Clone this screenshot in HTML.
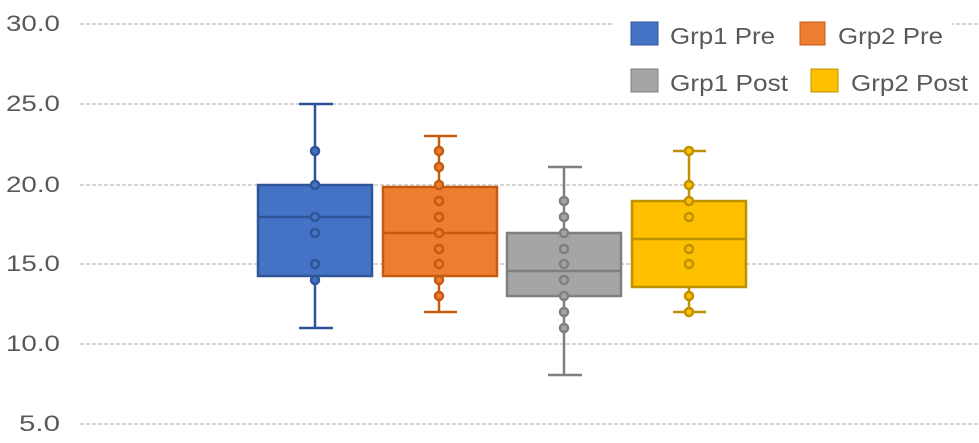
<!DOCTYPE html><html><head><style>body{margin:0;background:#fff}svg{display:block}text{font-family:"Liberation Sans",sans-serif}</style></head><body>
<svg width="979" height="443" xmlns="http://www.w3.org/2000/svg">
<g stroke="#c8c8c8" stroke-width="1.5" stroke-dasharray="4,2">
<line x1="80" y1="24" x2="979" y2="24"/><line x1="80" y1="104" x2="979" y2="104"/><line x1="80" y1="185" x2="979" y2="185"/><line x1="80" y1="264" x2="979" y2="264"/><line x1="80" y1="344" x2="979" y2="344"/><line x1="80" y1="424" x2="979" y2="424"/>
</g>
<g font-size="22" fill="#595959">
<text x="6" y="31" textLength="54" lengthAdjust="spacingAndGlyphs">30.0</text><text x="6" y="111" textLength="54" lengthAdjust="spacingAndGlyphs">25.0</text><text x="6" y="192" textLength="54" lengthAdjust="spacingAndGlyphs">20.0</text><text x="6" y="271" textLength="54" lengthAdjust="spacingAndGlyphs">15.0</text><text x="6" y="351" textLength="54" lengthAdjust="spacingAndGlyphs">10.0</text><text x="19" y="431" textLength="41" lengthAdjust="spacingAndGlyphs">5.0</text>
</g>
<rect x="612" y="0" width="340" height="100" fill="#fff"/>
<g font-size="23" fill="#595959">
<rect x="631" y="22" width="27" height="23" fill="#4472c4" stroke="#2f5597"/><text x="670" y="44" textLength="105" lengthAdjust="spacingAndGlyphs">Grp1 Pre</text>
<rect x="800" y="22" width="25" height="23" fill="#ed7d31" stroke="#c55a11"/><text x="838" y="44" textLength="105" lengthAdjust="spacingAndGlyphs">Grp2 Pre</text>
<rect x="631" y="69" width="27" height="23" fill="#a5a5a5" stroke="#7f7f7f"/><text x="670" y="91" textLength="118" lengthAdjust="spacingAndGlyphs">Grp1 Post</text>
<rect x="811" y="69" width="27" height="23" fill="#ffc000" stroke="#bf9000"/><text x="851" y="91" textLength="117" lengthAdjust="spacingAndGlyphs">Grp2 Post</text>
</g>
<!-- blue -->
<g stroke="#2f5597" stroke-width="2.5" fill="#4472c4">
<line x1="315" y1="104" x2="315" y2="328"/><line x1="299" y1="104" x2="333" y2="104"/><line x1="299" y1="328" x2="333" y2="328"/>
<rect x="258" y="185" width="114" height="91"/><line x1="258" y1="217" x2="372" y2="217"/>
<circle cx="315" cy="151" r="4"/><circle cx="315" cy="185" r="4"/><circle cx="315" cy="217" r="4"/><circle cx="315" cy="233" r="4"/><circle cx="315" cy="264" r="4"/><circle cx="315" cy="280" r="4"/>
</g>
<!-- orange -->
<g stroke="#c55a11" stroke-width="2.5" fill="#ed7d31">
<line x1="439" y1="136" x2="439" y2="312"/><line x1="424" y1="136" x2="457" y2="136"/><line x1="424" y1="312" x2="457" y2="312"/>
<rect x="383" y="187" width="114" height="89"/><line x1="383" y1="233" x2="497" y2="233"/>
<circle cx="439" cy="151" r="4"/><circle cx="439" cy="167" r="4"/><circle cx="439" cy="185" r="4"/><circle cx="439" cy="201" r="4"/><circle cx="439" cy="217" r="4"/><circle cx="439" cy="233" r="4"/><circle cx="439" cy="249" r="4"/><circle cx="439" cy="264" r="4"/><circle cx="439" cy="280" r="4"/><circle cx="439" cy="296" r="4"/>
</g>
<!-- gray -->
<g stroke="#7f7f7f" stroke-width="2.5" fill="#a5a5a5">
<line x1="564" y1="167" x2="564" y2="375"/><line x1="548" y1="167" x2="582" y2="167"/><line x1="548" y1="375" x2="582" y2="375"/>
<rect x="507" y="233" width="114" height="63"/><line x1="507" y1="271" x2="621" y2="271"/>
<circle cx="564" cy="201" r="4"/><circle cx="564" cy="217" r="4"/><circle cx="564" cy="233" r="4"/><circle cx="564" cy="249" r="4"/><circle cx="564" cy="264" r="4"/><circle cx="564" cy="280" r="4"/><circle cx="564" cy="296" r="4"/><circle cx="564" cy="312" r="4"/><circle cx="564" cy="328" r="4"/>
</g>
<!-- yellow -->
<g stroke="#bf9000" stroke-width="2.5" fill="#ffc000">
<line x1="689" y1="151" x2="689" y2="312"/><line x1="673" y1="151" x2="706" y2="151"/><line x1="673" y1="312" x2="706" y2="312"/>
<rect x="632" y="201" width="114" height="86"/><line x1="632" y1="239" x2="746" y2="239"/>
<circle cx="689" cy="151" r="4"/><circle cx="689" cy="185" r="4"/><circle cx="689" cy="201" r="4"/><circle cx="689" cy="217" r="4"/><circle cx="689" cy="249" r="4"/><circle cx="689" cy="264" r="4"/><circle cx="689" cy="296" r="4"/><circle cx="689" cy="312" r="4"/>
</g>
</svg></body></html>
